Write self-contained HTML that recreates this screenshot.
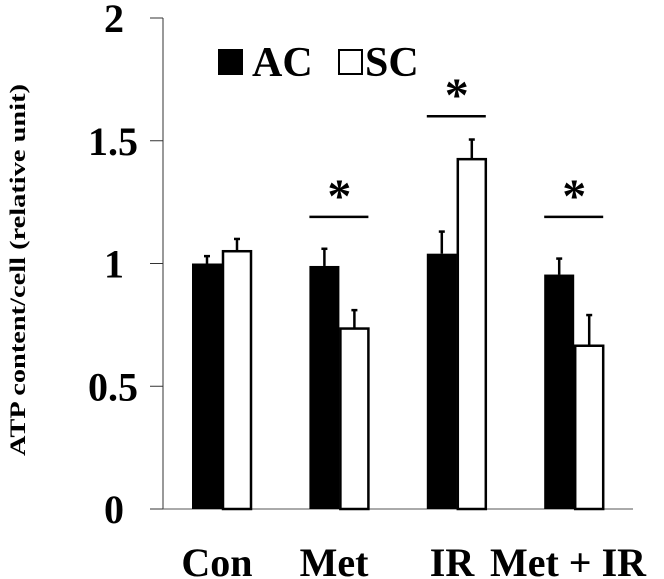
<!DOCTYPE html>
<html><head><meta charset="utf-8"><style>
html,body{margin:0;padding:0;background:#fff;}
svg{display:block;font-family:"Liberation Serif","Times New Roman",serif;font-weight:bold;}
</style></head><body>
<svg id="chart" width="664" height="579" viewBox="0 0 664 579">
<g id="g"></g>
</svg>
<script>
const categories=["Con","Met","IR","Met + IR"];
const acValues=[1.0,0.99,1.04,0.955];
const acErrors=[0.03,0.07,0.09,0.065];
const scValues=[1.05,0.735,1.425,0.665];
const scErrors=[0.05,0.075,0.08,0.125];
const significant=[false,true,true,true];
const tickValues=[0,0.5,1,1.5,2];
const tickLabels=["0","0.5","1","1.5","2"];
const sigLevels=[0,1.19,1.6,1.19];

const NS="http://www.w3.org/2000/svg";
const g=document.getElementById('g');
const x0=163,xEnd=633,yBase=509,unit=245.5;
const y=v=>yBase-v*unit;
const groupC=i=>222+i*117.4;
function el(t,a,p){const e=document.createElementNS(NS,t);for(const k in a)e.setAttribute(k,a[k]);(p||g).appendChild(e);return e;}

let ax=el('line',{x1:x0,y1:y(2),x2:x0,y2:yBase,stroke:'#333','stroke-width':1});


let xa=el('line',{x1:x0,y1:yBase,x2:xEnd,y2:yBase,stroke:'#555','stroke-width':1});


tickValues.forEach((v,i)=>{
  let t=el('line',{x1:150,y1:y(v),x2:x0,y2:y(v),stroke:'#333','stroke-width':1});
  
  
  const isInt=Number.isInteger(v);
  let tx=el('text',{x:isInt?124:138,y:y(v)+14,'font-size':40,'text-anchor':'end'});
  tx.textContent=tickLabels[i];
  
  
});
let yt=el('text',{x:0,y:0,'font-size':22,'text-anchor':'middle',transform:'translate(25,270) rotate(-90)',textLength:372,lengthAdjust:'spacingAndGlyphs'});
yt.textContent='ATP content/cell (relative unit)';



const bw=30;
categories.forEach((c,i)=>{
  const cx=groupC(i);
  let ea=el('line',{x1:cx-15,y1:y(acValues[i]),x2:cx-15,y2:y(acValues[i]+acErrors[i]),stroke:'#000','stroke-width':2.5});
  
  
  let ca=el('line',{x1:cx-18,y1:y(acValues[i]+acErrors[i]),x2:cx-12,y2:y(acValues[i]+acErrors[i]),stroke:'#000','stroke-width':2.5});
  
  
  let ba=el('rect',{x:cx-bw,y:y(acValues[i]),width:bw,height:yBase-y(acValues[i]),fill:'#000'});
  
  
  let es=el('line',{x1:cx+15,y1:y(scValues[i]),x2:cx+15,y2:y(scValues[i]+scErrors[i]),stroke:'#000','stroke-width':2.5});
  
  
  let cs=el('line',{x1:cx+12,y1:y(scValues[i]+scErrors[i]),x2:cx+18,y2:y(scValues[i]+scErrors[i]),stroke:'#000','stroke-width':2.5});
  
  
  let bs=el('rect',{x:cx+1,y:y(scValues[i]),width:bw-2,height:yBase-y(scValues[i]),fill:'#fff',stroke:'#000','stroke-width':2.5});
  
  
  if(significant[i]){
    const ly=y(sigLevels[i]);
    let sl=el('line',{x1:cx-30,y1:ly,x2:cx+29,y2:ly,stroke:'#000','stroke-width':2.5});
    
    
    let st=el('text',{x:cx,y:ly-5,'font-size':48,'text-anchor':'middle'});
    st.textContent='*';
    
    
  }
});
const labelX=[217,334,452,568];
categories.forEach((c,i)=>{
  let t=el('text',{x:labelX[i],y:576,'font-size':40,'text-anchor':'middle'});
  t.textContent=c;
  
  
});
let l1=el('rect',{x:218,y:49,width:25,height:26,fill:'#000'});


let lt1=el('text',{x:252,y:76,'font-size':42});
lt1.textContent='AC';


let l2=el('rect',{x:339,y:50,width:23,height:24,fill:'#fff',stroke:'#000','stroke-width':2});


let lt2=el('text',{x:365,y:76,'font-size':42});
lt2.textContent='SC';


</script>
</body></html>
